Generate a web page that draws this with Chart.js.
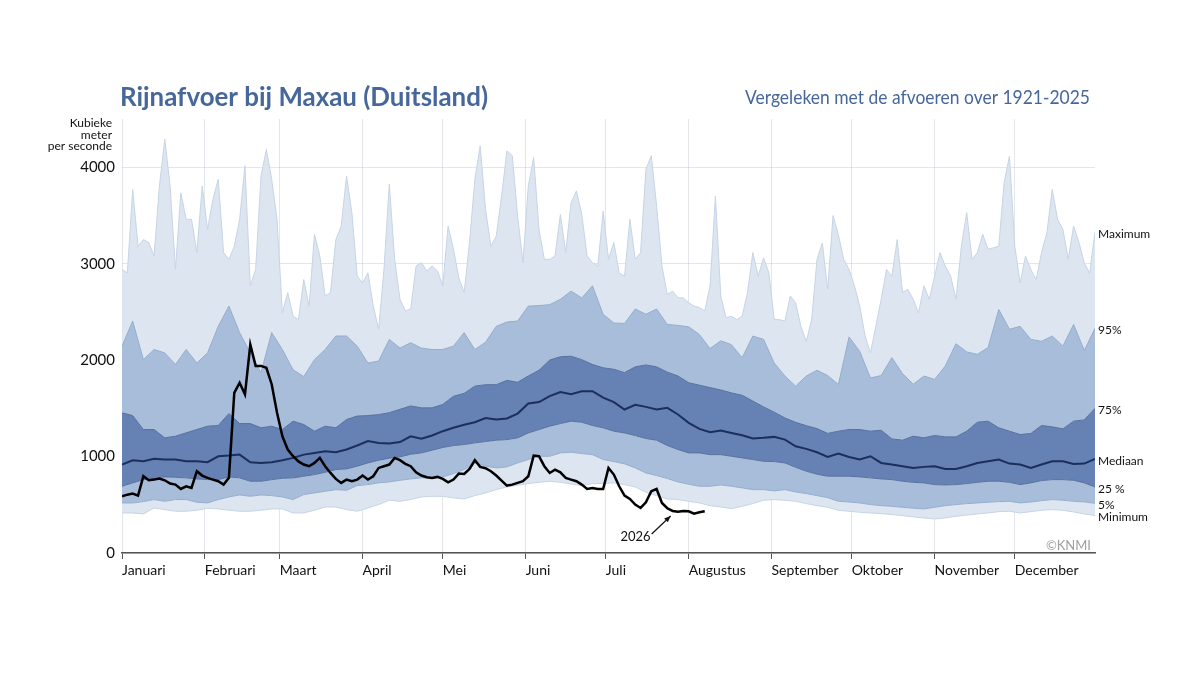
<!DOCTYPE html>
<html lang="nl">
<head>
    <meta charset="UTF-8">
    <title>Rijnafvoer bij Maxau</title>
    <script src="https://cdn.jsdelivr.net/npm/chart.js@4.4.1/dist/chart.umd.min.js"></script>
    <style>
        html, body { margin: 0; padding: 0; background: #fff; }
        #container { width: 1200px; height: 675px; position: relative; }
    </style>
</head>
<body>
<div id="container">
    <canvas id="canvas"></canvas>
</div>
<script>
    var TITLE = 'Rijnafvoer bij Maxau (Duitsland)';
    var SUBTITLE = 'Vergeleken met de afvoeren over 1921-2025';
    var UNIT_LINES = ['Kubieke', 'meter', 'per seconde'];

    var MONTHS = ['Januari', 'Februari', 'Maart', 'April', 'Mei', 'Juni', 'Juli', 'Augustus', 'September', 'Oktober', 'November', 'December'];
    var MONTH_START = [1, 32, 60, 91, 121, 152, 182, 213, 244, 274, 305, 335];
    var Y_TICKS = [0, 1000, 2000, 3000, 4000];

    // maximum: een waarde per 2 dagen (dag 1, 3 ... 365), erg piekerig
    var MAX_STEP = 2;
    var MAXIMUM = [2940, 2905, 3770, 3180, 3250, 3220, 3080, 3805, 4290, 3805, 2940, 3735, 3460, 3460, 3115, 3805, 3355, 3665, 3875, 3115,
        3045, 3180, 3460, 4015, 2770, 2940, 3910, 4185, 3875, 3460, 2490, 2700, 2455, 2420, 2835, 2560, 3305, 3080, 2665, 2700, 3250, 3390, 3910,
        3530, 2870, 2800, 2905, 2560, 2320, 2940, 3825, 3045, 2630, 2510, 2530, 2975, 3010, 2925, 2975, 2925, 2770, 3390, 3150, 2855, 2700,
        3220, 3875, 4220, 3565, 3180, 3285, 3700, 4170, 4120, 3495, 3010, 3805, 4100, 3355, 3045, 3045, 3080, 3510, 3115, 3630, 3755, 3510,
        3080, 3010, 2975, 3545, 3045, 3220, 2905, 2870, 3460, 3045, 3115, 3980, 4120, 3600, 2975, 2680, 2715, 2645, 2645, 2595, 2560, 2545, 2510,
        2770, 3700, 2665, 2440, 2455, 2420, 2455, 2700, 3115, 2870, 3060, 2905, 2420, 2420, 2405, 2665, 2595, 2350, 2195, 2420, 3045, 3215, 2735,
        3500, 3300, 3045, 2940, 2770, 2560, 2250, 2075, 2350, 2630, 2940, 2870, 3250, 2700, 2735, 2630, 2490, 2770, 2630, 2870, 3115, 2975, 2870, 2630,
        3180, 3530, 3045, 3115, 3305, 3150, 3165, 3180, 3840, 4115, 3180, 2800, 3080, 2940, 2835, 3115, 3320, 3770, 3460, 3355, 3045, 3390, 3220, 3010, 2900, 3330];

    // overige percentielen: een waarde per 4 dagen (dag 1, 5, 9 ... 365)
    var BAND_STEP = 4;
    var P95 = [2145, 2405, 2005, 2110, 2075, 1955, 2110, 1970, 2075, 2350, 2560, 2285, 2075, 1870, 2285, 2110, 1900, 1830, 2005, 2110, 2250, 2250,
        2145, 1970, 1990, 2215, 2125, 2180, 2125, 2110, 2110, 2145, 2285, 2110, 2185, 2350, 2395, 2405, 2560, 2565, 2575, 2630, 2715, 2645,
        2770, 2475, 2385, 2380, 2530, 2475, 2530, 2370, 2360, 2345, 2265, 2120, 2200, 2160, 2025, 2250, 2215, 1970, 1835, 1730, 1835, 1895, 1840,
        1747, 2240, 2090, 1815, 1840, 2025, 1860, 1750, 1835, 1800, 1940, 2170, 2085, 2060, 2130, 2525, 2320, 2350, 2215, 2195, 2250, 2145, 2370, 2100, 2330];
    var P75 = [1453, 1425, 1280, 1280, 1194, 1211, 1246, 1280, 1315, 1322, 1446, 1342, 1342, 1298, 1315, 1280, 1367, 1332, 1263, 1315, 1298, 1384,
        1420, 1425, 1435, 1455, 1490, 1525, 1505, 1505, 1540, 1625, 1655, 1730, 1745, 1745, 1790, 1770, 1835, 1895, 2000, 2035, 2040, 2005,
        1955, 1920, 1905, 1870, 1930, 1950, 1930, 1875, 1835, 1765, 1740, 1715, 1690, 1660, 1635, 1575, 1515, 1460, 1400, 1355, 1320, 1290, 1240,
        1263, 1280, 1280, 1263, 1273, 1183, 1170, 1211, 1194, 1218, 1204, 1204, 1263, 1356, 1367, 1298, 1263, 1228, 1239, 1322, 1308, 1287, 1367, 1380, 1500];
    var MEDIAAN = [917, 962, 951, 976, 969, 969, 951, 951, 941, 1003, 1010, 1020, 941, 934, 941, 962, 986, 1020, 1038, 1055, 1045, 1073,
        1115, 1160, 1140, 1135, 1150, 1210, 1185, 1218, 1263, 1298, 1330, 1356, 1400, 1384, 1395, 1446, 1550, 1565, 1626, 1668, 1647, 1678,
        1678, 1610, 1565, 1488, 1536, 1515, 1488, 1505, 1436, 1350, 1287, 1253, 1270, 1245, 1220, 1187, 1194, 1204, 1176, 1107, 1080, 1045, 996,
        1031, 996, 969, 1003, 934, 917, 900, 882, 893, 900, 872, 872, 900, 934, 951, 969, 927, 917, 882, 917, 951, 951, 924, 927, 976];
    var P25 = [692, 727, 761, 775, 789, 785, 779, 768, 761, 761, 789, 779, 744, 744, 761, 775, 779, 796, 813, 837, 865, 872,
        900, 934, 962, 983, 997, 1024, 1038, 1066, 1094, 1114, 1125, 1142, 1156, 1170, 1176, 1194, 1245, 1280, 1315, 1342, 1367, 1356,
        1322, 1298, 1263, 1245, 1218, 1187, 1170, 1114, 1073, 1038, 1038, 1020, 1020, 1003, 986, 969, 951, 948, 934, 889, 848, 817, 796,
        796, 796, 789, 779, 768, 761, 744, 733, 727, 709, 706, 709, 720, 733, 744, 744, 733, 709, 727, 751, 761, 761, 754, 727, 685];
    var P5 = [519, 519, 533, 554, 536, 554, 554, 526, 519, 554, 581, 602, 588, 602, 595, 581, 554, 606, 623, 640, 657, 650,
        699, 709, 727, 737, 754, 768, 779, 779, 789, 823, 865, 934, 900, 882, 893, 934, 969, 1003, 1003, 1038, 1045, 1031,
        1020, 969, 948, 924, 882, 830, 803, 772, 737, 713, 692, 692, 706, 692, 675, 657, 657, 644, 657, 633, 616, 595, 574,
        536, 529, 519, 502, 491, 484, 474, 464, 457, 474, 491, 502, 512, 519, 526, 533, 536, 519, 529, 543, 554, 547, 536, 530, 515];
    var MINIMUM = [415, 415, 405, 467, 450, 433, 433, 443, 464, 457, 443, 433, 433, 443, 457, 457, 415, 415, 443, 477, 477, 450,
        433, 467, 502, 547, 536, 554, 581, 588, 588, 571, 560, 595, 623, 657, 685, 702, 720, 733, 744, 733, 716, 699,
        720, 720, 727, 709, 685, 630, 595, 560, 554, 536, 519, 491, 477, 460, 484, 512, 547, 554, 547, 536, 512, 491, 474,
        443, 433, 422, 415, 408, 398, 388, 374, 363, 353, 363, 381, 394, 405, 415, 429, 433, 415, 429, 443, 450, 443, 425, 405, 388];

    // 2026: een waarde per 2 dagen (dag 1, 3 ... 219)
    var STEP_2026 = 2;
    var AFVOER_2026 = [588, 605, 616, 595, 796, 754, 761, 772, 754, 720, 709,
        664, 692, 675, 848, 803, 779, 761, 744, 709, 779,
        1660, 1765, 1645, 2160, 1940, 1940, 1920, 1750, 1455, 1210,
        1073, 1003, 950, 917, 900, 934, 986, 900, 830, 768,
        727, 761, 744, 761, 803, 761, 796, 882, 900, 917,
        986, 962, 924, 900, 837, 803, 785, 779, 789, 768,
        733, 761, 823, 820, 872, 962, 893, 879, 848, 803,
        751, 699, 709, 727, 744, 796, 1010, 1003, 900, 830,
        865, 837, 779, 761, 744, 709, 664, 675, 664, 664,
        882, 813, 692, 595, 560, 502, 467, 526, 640, 664,
        519, 464, 436, 429, 436, 432, 408, 422, 432];

    var LIGHT = '#dde6f0', MID = '#a7bdd9', DARK = '#6681b3';
    var LIGHT_EDGE = '#c6d4e5', MID_EDGE = '#94acce', DARK_EDGE = '#56709f';
    var BLUE_TEXT = '#46679b';

    function toPoints(values, step) {
        return values.map(function(v, i) {
            return {x: 1 + i * step, y: v};
        });
    }

    function band(label, values, step, fillColor, edgeColor) {
        return {
            label: label,
            data: toPoints(values, step),
            borderColor: edgeColor,
            borderWidth: 1,
            backgroundColor: fillColor,
            fill: fillColor ? '-1' : false,
            pointRadius: 0,
            tension: 0,
            order: 10
        };
    }

    var RIGHT_LABELS = [
        ['Maximum', MAXIMUM], ['95%', P95], ['75%', P75], ['Mediaan', MEDIAAN],
        ['25 %', P25], ['5%', P5], ['Minimum', MINIMUM]
    ];

    var decorations = {
        id: 'decorations',
        afterDraw: function(chart) {
            var ctx = chart.ctx;
            var xs = chart.scales.x, ys = chart.scales.y, area = chart.chartArea;
            ctx.save();

            // titels
            ctx.fillStyle = BLUE_TEXT;
            ctx.textBaseline = 'alphabetic';
            ctx.textAlign = 'left';
            ctx.font = 'bold 26px Lato';
            ctx.fillText(TITLE, area.left - 2, 106, 368);
            ctx.textAlign = 'right';
            ctx.font = '19px Lato';
            ctx.fillText(SUBTITLE, area.right - 5, 104, 345);

            // eenheid
            ctx.fillStyle = '#111';
            ctx.font = '12px Lato';
            UNIT_LINES.forEach(function(t, i) {
                ctx.fillText(t, 112, 127 + i * 11.5);
            });

            // labels rechts, bij de laatste waarde
            ctx.textAlign = 'left';
            ctx.textBaseline = 'middle';
            RIGHT_LABELS.forEach(function(l) {
                var y = ys.getPixelForValue(l[1][l[1].length - 1]) + 2;
                ctx.fillText(l[0], area.right + 3, y);
            });

            // copyright
            ctx.fillStyle = '#a0a0a0';
            ctx.font = '13px Lato';
            ctx.textAlign = 'right';
            ctx.textBaseline = 'alphabetic';
            ctx.fillText('\u00A9KNMI', area.right - 4, area.bottom - 3);

            // annotatie 2026
            var idx = 103;
            var tipX = xs.getPixelForValue(1 + idx * STEP_2026) - 2;
            var tipY = ys.getPixelForValue(AFVOER_2026[idx]) + 5;
            var tailX = tipX - 19, tailY = tipY + 18;
            ctx.strokeStyle = '#111';
            ctx.fillStyle = '#111';
            ctx.lineWidth = 1.2;
            ctx.beginPath();
            ctx.moveTo(tailX, tailY);
            ctx.lineTo(tipX, tipY);
            ctx.stroke();
            var ang = Math.atan2(tipY - tailY, tipX - tailX);
            ctx.beginPath();
            ctx.moveTo(tipX, tipY);
            ctx.lineTo(tipX - 7 * Math.cos(ang - 0.4), tipY - 7 * Math.sin(ang - 0.4));
            ctx.lineTo(tipX - 7 * Math.cos(ang + 0.4), tipY - 7 * Math.sin(ang + 0.4));
            ctx.closePath();
            ctx.fill();
            ctx.font = '13px Lato';
            ctx.textAlign = 'right';
            ctx.textBaseline = 'middle';
            ctx.fillText('2026', tailX - 1, tailY + 3);

            ctx.restore();
        }
    };

    window.onload = function() {
        var ctx = document.getElementById('canvas').getContext('2d');
        window.myChart = new Chart(ctx, {
            type: 'line',
            data: {
                datasets: [
                    band('Minimum', MINIMUM, BAND_STEP, null, LIGHT_EDGE),
                    band('5%', P5, BAND_STEP, LIGHT, MID_EDGE),
                    band('25%', P25, BAND_STEP, MID, DARK_EDGE),
                    band('75%', P75, BAND_STEP, DARK, DARK_EDGE),
                    band('95%', P95, BAND_STEP, MID, MID_EDGE),
                    band('Maximum', MAXIMUM, MAX_STEP, LIGHT, LIGHT_EDGE),
                    {
                        label: 'Mediaan',
                        data: toPoints(MEDIAAN, BAND_STEP),
                        borderColor: '#1a2f5c',
                        borderWidth: 2,
                        fill: false,
                        pointRadius: 0,
                        tension: 0,
                        order: 2
                    },
                    {
                        label: '2026',
                        data: toPoints(AFVOER_2026, STEP_2026),
                        borderColor: '#000',
                        borderWidth: 2.5,
                        fill: false,
                        pointRadius: 0,
                        tension: 0,
                        order: 1
                    }
                ]
            },
            options: {
                responsive: true,
                maintainAspectRatio: false,
                animation: false,
                events: [],
                layout: {padding: {left: 0, right: 105, top: 119, bottom: 82}},
                plugins: {
                    legend: {display: false},
                    tooltip: {enabled: false},
                    title: {display: false}
                },
                scales: {
                    x: {
                        type: 'linear',
                        min: 1,
                        max: 365,
                        z: 1,
                        afterBuildTicks: function(scale) {
                            scale.ticks = MONTH_START.map(function(d) { return {value: d}; });
                        },
                        afterFit: function(scale) { scale.height = 40; },
                        grid: {
                            color: 'rgba(175,182,195,0.35)',
                            tickColor: '#555',
                            tickLength: 6,
                            lineWidth: 1
                        },
                        border: {color: '#555', width: 1.5},
                        ticks: {
                            autoSkip: false,
                            maxRotation: 0,
                            align: 'start',
                            padding: 3,
                            color: '#111',
                            font: {family: 'Lato', size: 14},
                            callback: function(value) {
                                var i = MONTH_START.indexOf(value);
                                return i >= 0 ? MONTHS[i] : '';
                            }
                        }
                    },
                    y: {
                        min: 0,
                        max: 4500,
                        z: 1,
                        afterBuildTicks: function(scale) {
                            scale.ticks = Y_TICKS.map(function(v) { return {value: v}; });
                        },
                        afterFit: function(scale) { scale.width = 122; },
                        grid: {
                            color: 'rgba(175,182,195,0.35)',
                            drawTicks: false
                        },
                        border: {display: false},
                        ticks: {
                            padding: 7,
                            color: '#111',
                            font: {family: 'Lato', size: 15},
                            callback: function(value) { return String(value); }
                        }
                    }
                }
            },
            plugins: [decorations]
        });
    };
</script>
</body>
</html>
